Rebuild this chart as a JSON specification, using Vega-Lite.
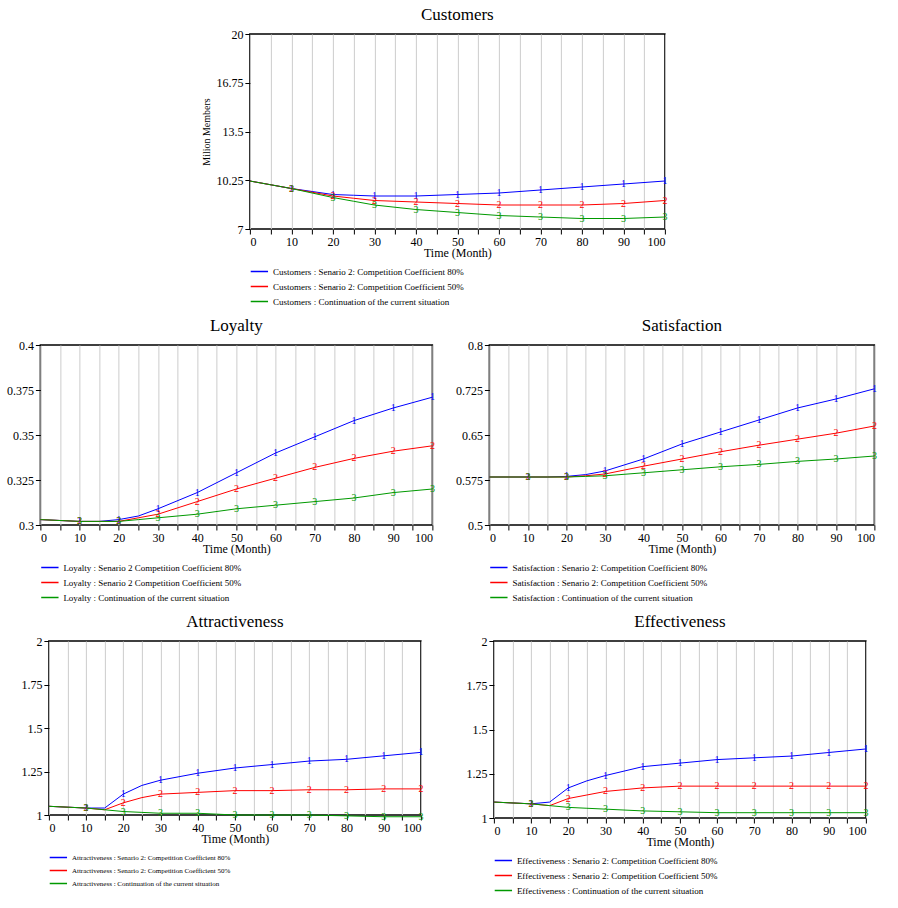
{
"$schema":"https://vega.github.io/schema/vega-lite/v6.json",
"background":"white",
"config":{"font":"Liberation Serif","view":{"stroke":"black","strokeWidth":1.5},"title":{"fontSize":17,"fontWeight":"normal","font":"Liberation Serif","offset":4},"axis":{"labelFont":"Liberation Serif","titleFont":"Liberation Serif","labelFontSize":12,"titleFontSize":12,"titleFontWeight":"normal","gridColor":"#cccccc","domain":false,"tickColor":"#000","labelColor":"black"},"legend":{"labelFont":"Liberation Serif","labelFontSize":9,"orient":"bottom","direction":"vertical","symbolType":"stroke","symbolSize":300,"title":null,"rowPadding":0,"labelLimit":400,"offset":4,"padding":0}},
"resolve":{"legend":{"color":"independent"},"scale":{"y":"independent","color":"independent"}},
"datasets":{"d":[
{"p":"C","s":"1","t":0,"v":10.2},{"p":"C","s":"1","t":10,"v":9.7},{"p":"C","s":"1","t":15,"v":9.5},{"p":"C","s":"1","t":20,"v":9.3},{"p":"C","s":"1","t":25,"v":9.25},{"p":"C","s":"1","t":30,"v":9.2},{"p":"C","s":"1","t":40,"v":9.2},{"p":"C","s":"1","t":50,"v":9.3},{"p":"C","s":"1","t":60,"v":9.4},{"p":"C","s":"1","t":70,"v":9.6},{"p":"C","s":"1","t":80,"v":9.8},{"p":"C","s":"1","t":90,"v":10.0},{"p":"C","s":"1","t":100,"v":10.2},
{"p":"C","s":"2","t":0,"v":10.2},{"p":"C","s":"2","t":10,"v":9.7},{"p":"C","s":"2","t":15,"v":9.45},{"p":"C","s":"2","t":20,"v":9.2},{"p":"C","s":"2","t":25,"v":9.05},{"p":"C","s":"2","t":30,"v":8.9},{"p":"C","s":"2","t":40,"v":8.8},{"p":"C","s":"2","t":50,"v":8.7},{"p":"C","s":"2","t":60,"v":8.6},{"p":"C","s":"2","t":70,"v":8.6},{"p":"C","s":"2","t":80,"v":8.6},{"p":"C","s":"2","t":90,"v":8.7},{"p":"C","s":"2","t":100,"v":8.9},
{"p":"C","s":"3","t":0,"v":10.2},{"p":"C","s":"3","t":10,"v":9.7},{"p":"C","s":"3","t":15,"v":9.4},{"p":"C","s":"3","t":20,"v":9.1},{"p":"C","s":"3","t":25,"v":8.85},{"p":"C","s":"3","t":30,"v":8.6},{"p":"C","s":"3","t":40,"v":8.3},{"p":"C","s":"3","t":50,"v":8.1},{"p":"C","s":"3","t":60,"v":7.9},{"p":"C","s":"3","t":70,"v":7.8},{"p":"C","s":"3","t":80,"v":7.7},{"p":"C","s":"3","t":90,"v":7.7},{"p":"C","s":"3","t":100,"v":7.8},
{"p":"L","s":"1","t":0,"v":0.303},{"p":"L","s":"1","t":10,"v":0.302},{"p":"L","s":"1","t":15,"v":0.302},{"p":"L","s":"1","t":20,"v":0.303},{"p":"L","s":"1","t":25,"v":0.305},{"p":"L","s":"1","t":30,"v":0.309},{"p":"L","s":"1","t":40,"v":0.318},{"p":"L","s":"1","t":50,"v":0.329},{"p":"L","s":"1","t":60,"v":0.34},{"p":"L","s":"1","t":70,"v":0.349},{"p":"L","s":"1","t":80,"v":0.358},{"p":"L","s":"1","t":90,"v":0.365},{"p":"L","s":"1","t":100,"v":0.371},
{"p":"L","s":"2","t":0,"v":0.303},{"p":"L","s":"2","t":10,"v":0.302},{"p":"L","s":"2","t":15,"v":0.302},{"p":"L","s":"2","t":20,"v":0.302},{"p":"L","s":"2","t":25,"v":0.304},{"p":"L","s":"2","t":30,"v":0.306},{"p":"L","s":"2","t":40,"v":0.313},{"p":"L","s":"2","t":50,"v":0.32},{"p":"L","s":"2","t":60,"v":0.326},{"p":"L","s":"2","t":70,"v":0.332},{"p":"L","s":"2","t":80,"v":0.337},{"p":"L","s":"2","t":90,"v":0.341},{"p":"L","s":"2","t":100,"v":0.344},
{"p":"L","s":"3","t":0,"v":0.303},{"p":"L","s":"3","t":10,"v":0.302},{"p":"L","s":"3","t":15,"v":0.302},{"p":"L","s":"3","t":20,"v":0.302},{"p":"L","s":"3","t":25,"v":0.303},{"p":"L","s":"3","t":30,"v":0.304},{"p":"L","s":"3","t":40,"v":0.306},{"p":"L","s":"3","t":50,"v":0.309},{"p":"L","s":"3","t":60,"v":0.311},{"p":"L","s":"3","t":70,"v":0.313},{"p":"L","s":"3","t":80,"v":0.315},{"p":"L","s":"3","t":90,"v":0.318},{"p":"L","s":"3","t":100,"v":0.32},
{"p":"S","s":"1","t":0,"v":0.58},{"p":"S","s":"1","t":10,"v":0.58},{"p":"S","s":"1","t":15,"v":0.58},{"p":"S","s":"1","t":20,"v":0.581},{"p":"S","s":"1","t":25,"v":0.584},{"p":"S","s":"1","t":30,"v":0.59},{"p":"S","s":"1","t":40,"v":0.61},{"p":"S","s":"1","t":50,"v":0.635},{"p":"S","s":"1","t":60,"v":0.655},{"p":"S","s":"1","t":70,"v":0.675},{"p":"S","s":"1","t":80,"v":0.695},{"p":"S","s":"1","t":90,"v":0.71},{"p":"S","s":"1","t":100,"v":0.727},
{"p":"S","s":"2","t":0,"v":0.58},{"p":"S","s":"2","t":10,"v":0.58},{"p":"S","s":"2","t":15,"v":0.58},{"p":"S","s":"2","t":20,"v":0.58},{"p":"S","s":"2","t":25,"v":0.582},{"p":"S","s":"2","t":30,"v":0.585},{"p":"S","s":"2","t":40,"v":0.598},{"p":"S","s":"2","t":50,"v":0.61},{"p":"S","s":"2","t":60,"v":0.622},{"p":"S","s":"2","t":70,"v":0.633},{"p":"S","s":"2","t":80,"v":0.643},{"p":"S","s":"2","t":90,"v":0.653},{"p":"S","s":"2","t":100,"v":0.665},
{"p":"S","s":"3","t":0,"v":0.58},{"p":"S","s":"3","t":10,"v":0.58},{"p":"S","s":"3","t":15,"v":0.58},{"p":"S","s":"3","t":20,"v":0.58},{"p":"S","s":"3","t":25,"v":0.581},{"p":"S","s":"3","t":30,"v":0.582},{"p":"S","s":"3","t":40,"v":0.587},{"p":"S","s":"3","t":50,"v":0.592},{"p":"S","s":"3","t":60,"v":0.597},{"p":"S","s":"3","t":70,"v":0.601},{"p":"S","s":"3","t":80,"v":0.606},{"p":"S","s":"3","t":90,"v":0.61},{"p":"S","s":"3","t":100,"v":0.615},
{"p":"A","s":"1","t":0,"v":1.05},{"p":"A","s":"1","t":10,"v":1.04},{"p":"A","s":"1","t":15,"v":1.04},{"p":"A","s":"1","t":20,"v":1.12},{"p":"A","s":"1","t":25,"v":1.17},{"p":"A","s":"1","t":30,"v":1.2},{"p":"A","s":"1","t":40,"v":1.24},{"p":"A","s":"1","t":50,"v":1.27},{"p":"A","s":"1","t":60,"v":1.29},{"p":"A","s":"1","t":70,"v":1.31},{"p":"A","s":"1","t":80,"v":1.32},{"p":"A","s":"1","t":90,"v":1.34},{"p":"A","s":"1","t":100,"v":1.36},
{"p":"A","s":"2","t":0,"v":1.05},{"p":"A","s":"2","t":10,"v":1.04},{"p":"A","s":"2","t":15,"v":1.03},{"p":"A","s":"2","t":20,"v":1.07},{"p":"A","s":"2","t":25,"v":1.1},{"p":"A","s":"2","t":30,"v":1.12},{"p":"A","s":"2","t":40,"v":1.13},{"p":"A","s":"2","t":50,"v":1.14},{"p":"A","s":"2","t":60,"v":1.14},{"p":"A","s":"2","t":70,"v":1.145},{"p":"A","s":"2","t":80,"v":1.145},{"p":"A","s":"2","t":90,"v":1.15},{"p":"A","s":"2","t":100,"v":1.15},
{"p":"A","s":"3","t":0,"v":1.05},{"p":"A","s":"3","t":10,"v":1.04},{"p":"A","s":"3","t":15,"v":1.03},{"p":"A","s":"3","t":20,"v":1.02},{"p":"A","s":"3","t":25,"v":1.015},{"p":"A","s":"3","t":30,"v":1.01},{"p":"A","s":"3","t":40,"v":1.01},{"p":"A","s":"3","t":50,"v":1.0},{"p":"A","s":"3","t":60,"v":1.0},{"p":"A","s":"3","t":70,"v":1.0},{"p":"A","s":"3","t":80,"v":0.995},{"p":"A","s":"3","t":90,"v":0.99},{"p":"A","s":"3","t":100,"v":0.99},
{"p":"E","s":"1","t":0,"v":1.09},{"p":"E","s":"1","t":10,"v":1.08},{"p":"E","s":"1","t":15,"v":1.09},{"p":"E","s":"1","t":20,"v":1.17},{"p":"E","s":"1","t":25,"v":1.21},{"p":"E","s":"1","t":30,"v":1.24},{"p":"E","s":"1","t":40,"v":1.29},{"p":"E","s":"1","t":50,"v":1.31},{"p":"E","s":"1","t":60,"v":1.33},{"p":"E","s":"1","t":70,"v":1.34},{"p":"E","s":"1","t":80,"v":1.35},{"p":"E","s":"1","t":90,"v":1.37},{"p":"E","s":"1","t":100,"v":1.39},
{"p":"E","s":"2","t":0,"v":1.09},{"p":"E","s":"2","t":10,"v":1.08},{"p":"E","s":"2","t":15,"v":1.07},{"p":"E","s":"2","t":20,"v":1.11},{"p":"E","s":"2","t":25,"v":1.13},{"p":"E","s":"2","t":30,"v":1.15},{"p":"E","s":"2","t":40,"v":1.17},{"p":"E","s":"2","t":50,"v":1.18},{"p":"E","s":"2","t":60,"v":1.18},{"p":"E","s":"2","t":70,"v":1.18},{"p":"E","s":"2","t":80,"v":1.18},{"p":"E","s":"2","t":90,"v":1.18},{"p":"E","s":"2","t":100,"v":1.18},
{"p":"E","s":"3","t":0,"v":1.09},{"p":"E","s":"3","t":10,"v":1.08},{"p":"E","s":"3","t":15,"v":1.07},{"p":"E","s":"3","t":20,"v":1.06},{"p":"E","s":"3","t":25,"v":1.055},{"p":"E","s":"3","t":30,"v":1.05},{"p":"E","s":"3","t":40,"v":1.04},{"p":"E","s":"3","t":50,"v":1.035},{"p":"E","s":"3","t":60,"v":1.03},{"p":"E","s":"3","t":70,"v":1.03},{"p":"E","s":"3","t":80,"v":1.03},{"p":"E","s":"3","t":90,"v":1.03},{"p":"E","s":"3","t":100,"v":1.03}
]},
"data":{"name":"d"},
"center":true,
"spacing":8,
"vconcat":[
{"title":"Customers","width":415,"height":195,
 "transform":[{"filter":"datum.p=='C'"}],
 "encoding":{
  "x":{"field":"t","type":"quantitative","scale":{"domain":[0,100],"nice":false},"axis":{"values":[0,5,10,15,20,25,30,35,40,45,50,55,60,65,70,75,80,85,90,95,100],"labelExpr":"datum.value%10==0?datum.label:''","title":"Time (Month)","grid":true,"titlePadding":0}},
  "y":{"field":"v","type":"quantitative","scale":{"domain":[7,20],"nice":false,"zero":false},"axis":{"values":[7,10.25,13.5,16.75,20],"labelExpr":"''+datum.value","grid":false,"title":"Milion Members","titleFontSize":10}},
  "color":{"field":"s","type":"nominal","scale":{"domain":["1","2","3"],"range":["#0000ff","#ff0000","#009900"]},"legend":{"labelExpr":"{'1':'Customers : Senario 2: Competition Coefficient 80%','2':'Customers : Senario 2: Competition Coefficient 50%','3':'Customers : Continuation of the current situation'}[datum.label]"}}},
 "layer":[{"mark":{"type":"line","strokeWidth":1}},{"transform":[{"filter":"datum.t%10==0 && datum.t>0"}],"mark":{"type":"text","fontSize":10},"encoding":{"text":{"field":"s"}}}]},
{"resolve":{"legend":{"color":"independent"},"scale":{"y":"independent","color":"independent"}},"spacing":18,"hconcat":[
{"title":"Loyalty","width":392,"height":180,
 "transform":[{"filter":"datum.p=='L'"}],
 "encoding":{
  "x":{"field":"t","type":"quantitative","scale":{"domain":[0,100],"nice":false},"axis":{"values":[0,5,10,15,20,25,30,35,40,45,50,55,60,65,70,75,80,85,90,95,100],"labelExpr":"datum.value%10==0?datum.label:''","title":"Time (Month)","grid":true,"titlePadding":0}},
  "y":{"field":"v","type":"quantitative","scale":{"domain":[0.3,0.4],"nice":false,"zero":false},"axis":{"values":[0.3,0.325,0.35,0.375,0.4],"labelExpr":"''+datum.value","grid":false,"title":null}},
  "color":{"field":"s","type":"nominal","scale":{"domain":["1","2","3"],"range":["#0000ff","#ff0000","#009900"]},"legend":{"labelExpr":"{'1':'Loyalty : Senario 2 Competition Coefficient 80%','2':'Loyalty : Senario 2 Competition Coefficient 50%','3':'Loyalty : Continuation of the current situation'}[datum.label]"}}},
 "layer":[{"mark":{"type":"line","strokeWidth":1}},{"transform":[{"filter":"datum.t%10==0 && datum.t>0"}],"mark":{"type":"text","fontSize":10},"encoding":{"text":{"field":"s"}}}]},
{"title":"Satisfaction","width":385,"height":180,
 "transform":[{"filter":"datum.p=='S'"}],
 "encoding":{
  "x":{"field":"t","type":"quantitative","scale":{"domain":[0,100],"nice":false},"axis":{"values":[0,5,10,15,20,25,30,35,40,45,50,55,60,65,70,75,80,85,90,95,100],"labelExpr":"datum.value%10==0?datum.label:''","title":"Time (Month)","grid":true,"titlePadding":0}},
  "y":{"field":"v","type":"quantitative","scale":{"domain":[0.5,0.8],"nice":false,"zero":false},"axis":{"values":[0.5,0.575,0.65,0.725,0.8],"labelExpr":"''+datum.value","grid":false,"title":null}},
  "color":{"field":"s","type":"nominal","scale":{"domain":["1","2","3"],"range":["#0000ff","#ff0000","#009900"]},"legend":{"labelExpr":"{'1':'Satisfaction : Senario 2: Competition Coefficient 80%','2':'Satisfaction : Senario 2: Competition Coefficient 50%','3':'Satisfaction : Continuation of the current situation'}[datum.label]"}}},
 "layer":[{"mark":{"type":"line","strokeWidth":1}},{"transform":[{"filter":"datum.t%10==0 && datum.t>0"}],"mark":{"type":"text","fontSize":10},"encoding":{"text":{"field":"s"}}}]}
]},
{"resolve":{"legend":{"color":"independent"},"scale":{"y":"independent","color":"independent"}},"spacing":40,"hconcat":[
{"title":"Attractiveness","width":372,"height":174,
 "transform":[{"filter":"datum.p=='A'"}],
 "encoding":{
  "x":{"field":"t","type":"quantitative","scale":{"domain":[0,100],"nice":false},"axis":{"values":[0,5,10,15,20,25,30,35,40,45,50,55,60,65,70,75,80,85,90,95,100],"labelExpr":"datum.value%10==0?datum.label:''","title":"Time (Month)","grid":true,"titlePadding":0}},
  "y":{"field":"v","type":"quantitative","scale":{"domain":[1,2],"nice":false,"zero":false},"axis":{"values":[1,1.25,1.5,1.75,2],"labelExpr":"''+datum.value","grid":false,"title":null}},
  "color":{"field":"s","type":"nominal","scale":{"domain":["1","2","3"],"range":["#0000ff","#ff0000","#009900"]},"legend":{"labelFontSize":7,"labelExpr":"{'1':'Attractiveness : Senario 2: Competition Coefficient 80%','2':'Attractiveness : Senario 2: Competition Coefficient 50%','3':'Attractiveness : Continuation of the current situation'}[datum.label]"}}},
 "layer":[{"mark":{"type":"line","strokeWidth":1}},{"transform":[{"filter":"datum.t%10==0 && datum.t>0"}],"mark":{"type":"text","fontSize":10},"encoding":{"text":{"field":"s"}}}]},
{"title":"Effectiveness","width":372,"height":177,
 "transform":[{"filter":"datum.p=='E'"}],
 "encoding":{
  "x":{"field":"t","type":"quantitative","scale":{"domain":[0,100],"nice":false},"axis":{"values":[0,5,10,15,20,25,30,35,40,45,50,55,60,65,70,75,80,85,90,95,100],"labelExpr":"datum.value%10==0?datum.label:''","title":"Time (Month)","grid":true,"titlePadding":0}},
  "y":{"field":"v","type":"quantitative","scale":{"domain":[1,2],"nice":false,"zero":false},"axis":{"values":[1,1.25,1.5,1.75,2],"labelExpr":"''+datum.value","grid":false,"title":null}},
  "color":{"field":"s","type":"nominal","scale":{"domain":["1","2","3"],"range":["#0000ff","#ff0000","#009900"]},"legend":{"labelExpr":"{'1':'Effectiveness : Senario 2: Competition Coefficient 80%','2':'Effectiveness : Senario 2: Competition Coefficient 50%','3':'Effectiveness : Continuation of the current situation'}[datum.label]"}}},
 "layer":[{"mark":{"type":"line","strokeWidth":1}},{"transform":[{"filter":"datum.t%10==0 && datum.t>0"}],"mark":{"type":"text","fontSize":10},"encoding":{"text":{"field":"s"}}}]}
]}
]}
